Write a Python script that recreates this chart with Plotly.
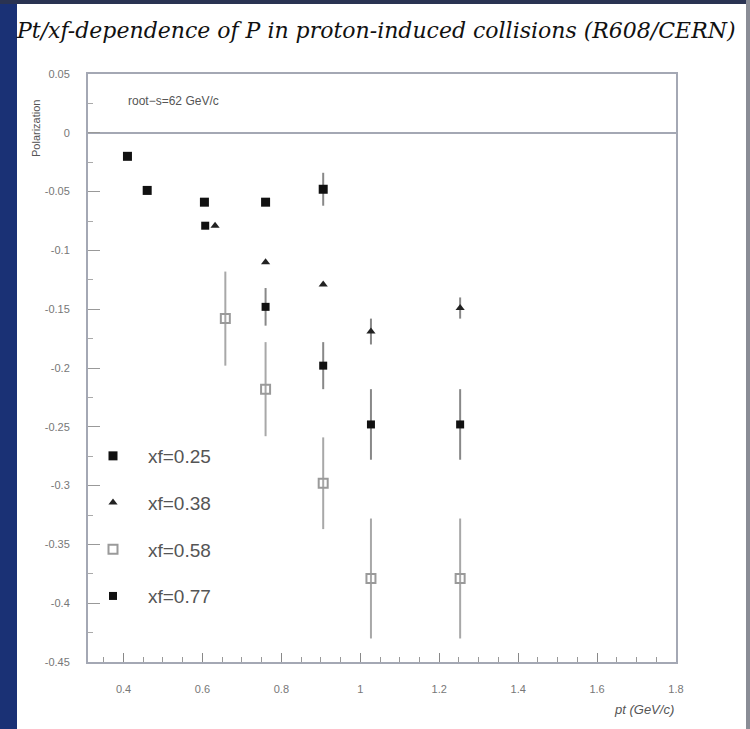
import plotly.graph_objects as go

# ---- data ----
series_names = ["xf=0.25", "xf=0.38", "xf=0.58", "xf=0.77"]

pt_025 = [0.41, 0.46, 0.605, 0.76, 0.906]
p_025 = [-0.020, -0.049, -0.059, -0.059, -0.048]
e_025 = [0.0, 0.0, 0.0, 0.003, 0.014]

pt_038 = [0.632, 0.76, 0.906, 1.027, 1.253]
p_038 = [-0.079, -0.110, -0.129, -0.169, -0.149]
e_038 = [0.0, 0.0, 0.0, 0.011, 0.009]

pt_058 = [0.658, 0.76, 0.906, 1.027, 1.253]
p_058 = [-0.158, -0.218, -0.298, -0.379, -0.379]
e_058 = [0.040, 0.040, 0.039, 0.051, 0.051]

pt_077 = [0.607, 0.76, 0.906, 1.027, 1.253]
p_077 = [-0.079, -0.148, -0.198, -0.248, -0.248]
e_077 = [0.0, 0.016, 0.020, 0.030, 0.030]

y_tickvals = [0.05, 0, -0.05, -0.1, -0.15, -0.2, -0.25, -0.3, -0.35, -0.4, -0.45]
y_ticktext = ["0.05", "0", "-0.05", "-0.1", "-0.15", "-0.2", "-0.25", "-0.3", "-0.35", "-0.4", "-0.45"]
x_tickvals = [0.4, 0.6, 0.8, 1.0, 1.2, 1.4, 1.6, 1.8]
x_ticktext = ["0.4", "0.6", "0.8", "1", "1.2", "1.4", "1.6", "1.8"]

W, H = 750, 729
L, R, T, B = 88, 74, 74, 67
PW, PH = W - L - R, H - T - B


def px(x):
    return (x - L) / PW


def py(y):
    return (H - B - y) / PH


fig = go.Figure()

styles = [
    (pt_025, p_025, e_025, dict(symbol="square", size=9, color="#111111"), "#888888"),
    (pt_038, p_038, e_038, dict(symbol="triangle-up", size=8, color="#222222"), "#888888"),
    (pt_058, p_058, e_058, dict(symbol="square-open", size=9, color="#9a9a9a", line=dict(width=2, color="#9a9a9a")), "#a8a8a8"),
    (pt_077, p_077, e_077, dict(symbol="square", size=8, color="#111111"), "#888888"),
]

for i, (xs, ys, es, mk, ecol) in enumerate(styles):
    fig.add_trace(go.Scatter(
        x=xs, y=ys, mode="markers", name=series_names[i],
        legendgroup=series_names[i],
        marker=mk,
        error_y=dict(type="data", array=es, visible=True, color=ecol, thickness=2, width=0),
    ))

axis_col = "#a4a8b4"
fig.update_layout(
    width=W, height=H,
    margin=dict(l=L, r=R, t=T, b=B),
    paper_bgcolor="white", plot_bgcolor="white",
    font=dict(family="Liberation Sans", color="#666666"),
    showlegend=True,
    legend=dict(
        x=px(78), y=py(437), xanchor="left", yanchor="top",
        bgcolor="rgba(0,0,0,0)", tracegroupgap=19, itemwidth=60,
        font=dict(size=19, color="#555555"),
    ),
    xaxis=dict(
        range=[0.31, 1.8], showgrid=False, zeroline=False,
        showline=True, linecolor=axis_col, linewidth=2, mirror=True,
        tickvals=x_tickvals, ticktext=x_ticktext,
        ticks="inside", ticklen=9, tickcolor="#888888", tickwidth=1,
        minor=dict(dtick=0.05, tick0=0.4, ticks="inside", ticklen=5, tickcolor="#999999"),
        tickfont=dict(size=11, color="#777777"),
        ticklabelstandoff=16,
    ),
    yaxis=dict(
        range=[-0.45, 0.05], showgrid=False,
        zeroline=True, zerolinecolor=axis_col, zerolinewidth=2,
        showline=True, linecolor=axis_col, linewidth=2, mirror=True,
        tickvals=y_tickvals, ticktext=y_ticktext,
        ticks="inside", ticklen=12, tickcolor="#999999", tickwidth=1,
        minor=dict(dtick=0.025, tick0=0, ticks="inside", ticklen=5, tickcolor="#aaaaaa"),
        tickfont=dict(size=11, color="#777777"),
        ticklabelstandoff=14,
    ),
)

fig.add_annotation(
    text="<i>Pt/xf-dependence of P in proton-induced collisions (R608/CERN)</i>",
    xref="paper", yref="paper", x=px(14), y=py(31), xanchor="left", yanchor="middle",
    showarrow=False, font=dict(family="DejaVu Serif", size=22, color="#111111"),
)
fig.add_annotation(
    text="root\u2212s=62 GeV/c",
    xref="paper", yref="paper", x=px(126), y=py(101), xanchor="left", yanchor="middle",
    showarrow=False, font=dict(size=12, color="#555555"),
)
fig.add_annotation(
    text="Polarization", textangle=-90,
    xref="paper", yref="paper", x=px(36), y=py(129), xanchor="center", yanchor="middle",
    showarrow=False, font=dict(size=11, color="#555555"),
)
fig.add_annotation(
    text="<i>pt (GeV/c)</i>",
    xref="paper", yref="paper", x=px(676), y=py(709), xanchor="right", yanchor="middle",
    showarrow=False, font=dict(size=13, color="#555555"),
)

# scanned-page frame
fig.add_shape(type="rect", xref="paper", yref="paper", x0=px(0), x1=px(17), y0=py(729), y1=py(0),
              fillcolor="#1a3175", line=dict(width=0), layer="above")
fig.add_shape(type="rect", xref="paper", yref="paper", x0=px(0), x1=px(750), y0=py(4), y1=py(0),
              fillcolor="#2a3352", line=dict(width=0), layer="above")
fig.add_shape(type="rect", xref="paper", yref="paper", x0=px(746), x1=px(750), y0=py(729), y1=py(0),
              fillcolor="#8a8d96", line=dict(width=0), layer="above")

fig.write_html("out.html", config={"displayModeBar": False},
               post_script="document.body.style.margin='0px';document.body.style.overflow='hidden';")
